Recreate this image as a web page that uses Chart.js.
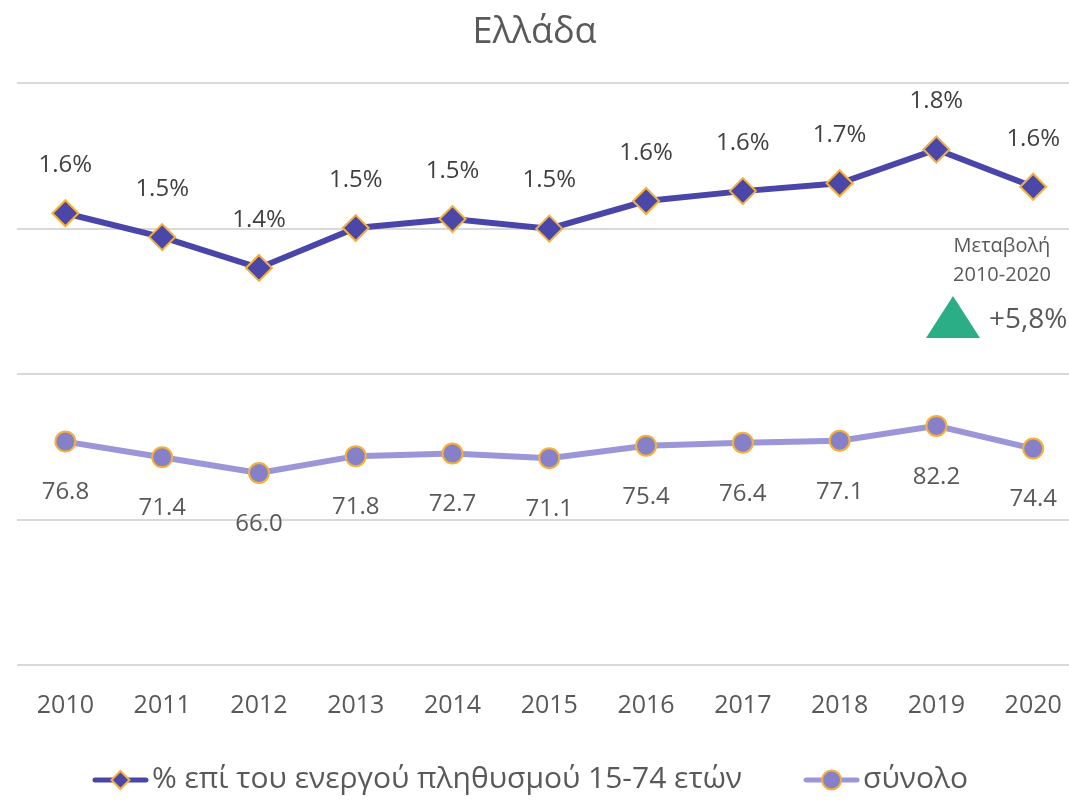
<!DOCTYPE html>
<html>
<head>
<meta charset="utf-8">
<script src="https://cdn.jsdelivr.net/npm/chart.js@4/dist/chart.umd.min.js"></script>
<style>
  html, body { margin: 0; padding: 0; background: #fff; overflow: hidden; }
</style>
</head>
<body>
<canvas id="grafico" width="1069" height="803"></canvas>
<script>
const years = [2010, 2011, 2012, 2013, 2014, 2015, 2016, 2017, 2018, 2019, 2020];
// share of active population 15-74 (%), right hidden axis
const sharePct = [1.553, 1.471, 1.365, 1.502, 1.533, 1.500, 1.595, 1.629, 1.656, 1.772, 1.644];
// total (thousands), left hidden axis
const totals = [76.8, 71.4, 66.0, 71.8, 72.7, 71.1, 75.4, 76.4, 77.1, 82.2, 74.4];
const seriesNames = ["% επί του ενεργού πληθυσμού 15-74 ετών", "σύνολο"];

const FONT = "'Open Sans', 'DejaVu Sans', sans-serif";
const GREY = "#595959";
const ORANGE = "#F5B13A";

// legend icon: line with marker, drawn on a small canvas
function legendIcon(style, lineColor, fillColor) {
  let c = document.createElement("canvas");
  c.width = 60;
  c.height = 30;
  let ctx = c.getContext("2d");
  let cy = 16;
  ctx.strokeStyle = lineColor;
  ctx.lineWidth = 5;
  ctx.lineCap = "round";
  ctx.beginPath();
  ctx.moveTo(6, cy);
  ctx.lineTo(57, cy);
  ctx.stroke();
  ctx.fillStyle = fillColor;
  ctx.strokeStyle = ORANGE;
  ctx.lineWidth = 2;
  ctx.beginPath();
  if (style === "diamond") {
    ctx.moveTo(31.5, cy - 9);
    ctx.lineTo(40.5, cy);
    ctx.lineTo(31.5, cy + 9);
    ctx.lineTo(22.5, cy);
    ctx.closePath();
  } else {
    ctx.arc(31.5, cy, 9.5, 0, Math.PI * 2);
  }
  ctx.fill();
  ctx.stroke();
  return c;
}

const icons = [
  legendIcon("diamond", "#4A45A8", "#4B47A8"),
  legendIcon("circle", "#9A96D8", "#8580C8")
];

const valueLabels = {
  id: "valueLabels",
  afterDatasetsDraw(chart) {
    let ctx = chart.ctx;
    ctx.save();
    ctx.textAlign = "center";
    ctx.textBaseline = "middle";
    ctx.font = "24px " + FONT;
    chart.data.datasets.forEach((ds, i) => {
      let meta = chart.getDatasetMeta(i);
      meta.data.forEach((pt, j) => {
        if (i === 0) {
          ctx.fillStyle = "#404040";
          ctx.fillText(ds.data[j].y.toFixed(1) + "%", pt.x, pt.y - 48);
        } else {
          ctx.fillStyle = GREY;
          ctx.fillText(ds.data[j].y.toFixed(1), pt.x, pt.y + 51);
        }
      });
    });
    ctx.restore();
  }
};

const changeNote = {
  id: "changeNote",
  afterDraw(chart) {
    let ctx = chart.ctx;
    ctx.save();
    ctx.fillStyle = GREY;
    ctx.textAlign = "center";
    ctx.textBaseline = "middle";
    ctx.font = "20px " + FONT;
    ctx.fillText("Μεταβολή", 1002, 246);
    ctx.fillText("2010-2020", 1002, 275);
    ctx.fillStyle = "#2BAE86";
    ctx.beginPath();
    ctx.moveTo(953, 296);
    ctx.lineTo(980, 338);
    ctx.lineTo(926, 338);
    ctx.closePath();
    ctx.fill();
    ctx.fillStyle = GREY;
    ctx.textAlign = "left";
    ctx.font = "28px " + FONT;
    ctx.fillText("+5,8%", 989, 320);
    ctx.restore();
  }
};

new Chart(document.getElementById("grafico").getContext("2d"), {
  type: "line",
  data: {
    datasets: [
      {
        label: seriesNames[0],
        data: years.map((y, i) => ({ x: y, y: sharePct[i] })),
        yAxisID: "yPct",
        borderColor: "#4A45A8",
        borderWidth: 6,
        backgroundColor: "#4B47A8",
        pointStyle: "rectRot",
        pointRadius: 13,
        pointBorderWidth: 2,
        pointBorderColor: ORANGE,
        pointBackgroundColor: "#4B47A8",
        tension: 0
      },
      {
        label: seriesNames[1],
        data: years.map((y, i) => ({ x: y, y: totals[i] })),
        yAxisID: "y",
        borderColor: "#9A96D8",
        borderWidth: 6,
        backgroundColor: "#8580C8",
        pointStyle: "circle",
        pointRadius: 10,
        pointBorderWidth: 2,
        pointBorderColor: ORANGE,
        pointBackgroundColor: "#8580C8",
        tension: 0
      }
    ]
  },
  options: {
    responsive: false,
    animation: false,
    layout: { autoPadding: false, padding: { left: 0, right: 0, top: 0, bottom: -1 } },
    scales: {
      x: {
        type: "linear",
        min: 2009.5,
        max: 2020.37,
        grid: { display: false, drawTicks: true, tickLength: 26 },
        border: { display: false },
        ticks: {
          stepSize: 1,
          includeBounds: false,
          autoSkip: false,
          maxRotation: 0,
          padding: 0,
          color: GREY,
          font: { family: FONT, size: 25 },
          callback: v => String(v)
        }
      },
      y: {
        position: "left",
        min: 0,
        max: 200,
        grid: { color: "#D9D9D9", lineWidth: 2, drawTicks: false },
        border: { display: false },
        ticks: { display: false, stepSize: 50 },
        afterFit: s => { s.width = 17; }
      },
      yPct: {
        position: "right",
        display: false,
        min: 0,
        max: 2
      }
    },
    plugins: {
      title: {
        display: true,
        text: "Ελλάδα",
        color: GREY,
        font: { family: FONT, size: 36, weight: "normal" },
        padding: { top: 11, bottom: 29 }
      },
      legend: {
        position: "bottom",
        // empty legend title with negative padding pulls the row up
        title: { display: true, text: "", font: { size: 10, lineHeight: 1 }, padding: { top: -37, bottom: 0 } },
        labels: {
          usePointStyle: true,
          pointStyleWidth: 36,
          padding: 70,
          color: GREY,
          font: { family: FONT, size: 30 },
          generateLabels: chart => chart.data.datasets.map((ds, i) => ({
            text: ds.label,
            pointStyle: icons[i],
            fontColor: GREY,
            datasetIndex: i,
            lineWidth: 0,
            hidden: false
          }))
        }
      },
      tooltip: { enabled: false }
    }
  },
  plugins: [valueLabels, changeNote]
});
</script>
</body>
</html>
